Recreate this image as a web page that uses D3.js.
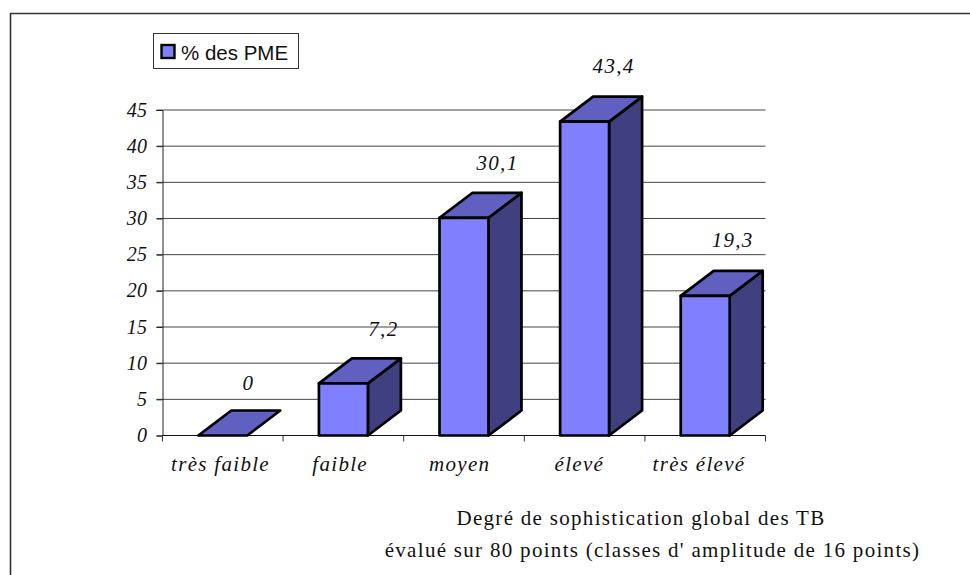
<!DOCTYPE html>
<html>
<head>
<meta charset="utf-8">
<script src="https://cdn.jsdelivr.net/npm/d3@7"></script>
<style>
  html, body { margin: 0; padding: 0; background: #fff; overflow: hidden; }
  svg { display: block; }
  text { fill: #111; }
  .serif { font-family: "Liberation Serif", serif; font-style: italic; font-size: 21px; letter-spacing: 1.3px; }
  .tickText { font-family: "Liberation Serif", serif; font-style: italic; font-size: 20px; letter-spacing: 0.4px; }
  .note { font-family: "Liberation Serif", serif; font-size: 21px; letter-spacing: 1.3px; }
</style>
</head>
<body>
<div id="chart"></div>
<script>
// Chart values
var categories = ["très faible", "faible", "moyen", "élevé", "très élevé"];
var values = [0, 7.2, 30.1, 43.4, 19.3];
var valueLabels = ["0", "7,2", "30,1", "43,4", "19,3"];
var yTicks = [0, 5, 10, 15, 20, 25, 30, 35, 40, 45];
var seriesName = "% des PME";
var noteLines = ["Degré de sophistication global des TB", "évalué sur 80 points (classes d' amplitude de 16 points)"];

// Set up the dimensions
var svgWidth = 970, svgHeight = 575;
var plot = {left: 162.5, right: 765.5, top: 110, bottom: 435.5};
var depth = {x: 33, y: -25};

var svg = d3.select("#chart").append("svg")
    .attr("width", svgWidth)
    .attr("height", svgHeight);

// outer frame, runs off the right and bottom edges
svg.append("path")
    .attr("d", "M10.5,575V13.5H970")
    .attr("fill", "none")
    .attr("stroke", "#333")
    .attr("stroke-width", 1.6);

var xScale = d3.scaleBand()
    .domain(categories)
    .range([plot.left, plot.right])
    .paddingInner(0.594)
    .paddingOuter(0.297);

// category labels are spaced a little tighter than the bars
var xLabelScale = d3.scalePoint()
    .domain(categories)
    .range([220.5, 699]);

var yScale = d3.scaleLinear()
    .domain([0, 45])
    .range([plot.bottom, plot.top]);

// gridlines
svg.append("g").selectAll("line")
    .data(yTicks.filter(d => d > 0))
    .enter().append("line")
    .attr("x1", plot.left - 6)
    .attr("x2", plot.right)
    .attr("y1", d => yScale(d))
    .attr("y2", d => yScale(d))
    .attr("stroke", "#444")
    .attr("stroke-width", 1);

// y axis
var leftAxis = d3.axisLeft(yScale).tickValues(yTicks).tickSize(6).tickPadding(9).tickFormat(d3.format("d"));
var yAxis = svg.append("g")
    .attr("transform", "translate(" + plot.left + ",0)")
    .call(leftAxis);
yAxis.select(".domain").attr("stroke", "#222");
yAxis.selectAll("line").attr("stroke", "#222");
yAxis.selectAll("text").attr("class", "tickText").attr("fill", "#111").attr("dy", "0.3em");

// x axis, ticks sit between the categories
var step = xScale.step();
var bottomAxis = svg.append("g");
bottomAxis.append("line")
    .attr("x1", plot.left).attr("x2", plot.right)
    .attr("y1", plot.bottom).attr("y2", plot.bottom)
    .attr("stroke", "#111").attr("stroke-width", 1.2);
bottomAxis.selectAll(".tick")
    .data(d3.range(categories.length + 1))
    .enter().append("line")
    .attr("class", "tick")
    .attr("x1", d => plot.left + d * step)
    .attr("x2", d => plot.left + d * step)
    .attr("y1", plot.bottom)
    .attr("y2", plot.bottom + 6)
    .attr("stroke", "#333");
bottomAxis.selectAll("text")
    .data(categories)
    .enter().append("text")
    .attr("class", "serif")
    .attr("x", d => xLabelScale(d))
    .attr("y", plot.bottom + 35)
    .attr("text-anchor", "middle")
    .text(d => d);

// 3D bars
var bars = svg.append("g").selectAll("g")
    .data(values)
    .enter().append("g")
    .attr("stroke", "#000")
    .attr("stroke-width", 2.7)
    .attr("stroke-linejoin", "round");

function barLeft(i) { return xScale(categories[i]); }
function barRight(i) { return xScale(categories[i]) + xScale.bandwidth(); }

// side face
bars.filter(d => d > 0).append("path")
    .attr("fill", "#404080")
    .attr("d", d => {
        var r = barRight(values.indexOf(d));
        return "M" + r + "," + plot.bottom + "L" + r + "," + yScale(d) +
            "l" + depth.x + "," + depth.y + "V" + (plot.bottom + depth.y) + "Z";
    });
// top face
bars.append("path")
    .attr("fill", "#6060c0")
    .attr("d", (d, i) => "M" + barLeft(i) + "," + yScale(d) +
        "l" + depth.x + "," + depth.y + "h" + xScale.bandwidth() +
        "l" + (-depth.x) + "," + (-depth.y) + "Z");
// front face
bars.filter(d => d > 0).append("path")
    .attr("fill", "#8080ff")
    .attr("d", d => {
        var i = values.indexOf(d);
        return "M" + barLeft(i) + "," + plot.bottom + "V" + yScale(d) +
            "H" + barRight(i) + "V" + plot.bottom + "Z";
    });

// value labels, hand placed like in the original
var labelDx = [1, 15.5, 9, 4.5, 3];
var labelDy = [-45.5, -47, -47.5, -49, -49];
svg.append("g").selectAll("text")
    .data(values)
    .enter().append("text")
    .attr("class", "serif")
    .attr("x", (d, i) => barRight(i) + labelDx[i])
    .attr("y", (d, i) => yScale(d) + labelDy[i])
    .attr("text-anchor", "middle")
    .text((d, i) => valueLabels[i]);

// legend
var legend = svg.append("g");
legend.append("rect")
    .attr("x", 153.5).attr("y", 33.5).attr("width", 145).attr("height", 35)
    .attr("fill", "#fff").attr("stroke", "#333").attr("stroke-width", 1);
legend.append("rect")
    .attr("x", 161.5).attr("y", 45).attr("width", 13).attr("height", 13)
    .attr("fill", "#8080ff").attr("stroke", "#000").attr("stroke-width", 2.4);
legend.append("text")
    .attr("x", 181).attr("y", 59.5)
    .attr("font-family", "Liberation Sans, sans-serif")
    .attr("font-size", 20.5)
    .text(seriesName);

// axis note
var noteCenters = [641, 652.5];
svg.append("g").selectAll("text")
    .data(noteLines)
    .enter().append("text")
    .attr("class", "note")
    .attr("x", (d, i) => noteCenters[i])
    .attr("y", (d, i) => 525 + i * 32)
    .attr("text-anchor", "middle")
    .text(d => d);
</script>
</body>
</html>
